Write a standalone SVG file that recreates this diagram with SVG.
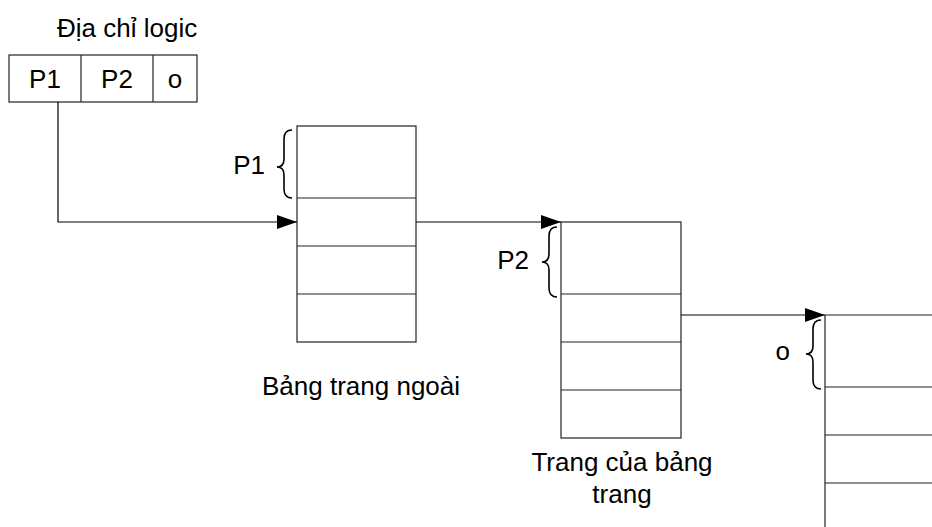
<svg xmlns="http://www.w3.org/2000/svg" width="932" height="527" viewBox="0 0 932 527">
  <style>
    .t { font-family: "Liberation Sans", Arial, sans-serif; font-size: 26px; fill: #000; }
    .c { text-anchor: middle; }
    .e { text-anchor: end; }
    .box { fill: #fff; stroke: #222; stroke-width: 1.2; }
    .ln { stroke: #222; stroke-width: 1.2; fill: none; }
    .brace { stroke: #000; stroke-width: 1.6; fill: none; }
    .conn { stroke: #000; stroke-width: 1.2; fill: none; }
  </style>
  <defs>
    <marker id="arr" markerUnits="userSpaceOnUse" markerWidth="21" markerHeight="14" refX="20" refY="7" orient="auto">
      <path d="M0,0 L20,7 L0,14 Z" fill="#000"/>
    </marker>
  </defs>
  <rect width="932" height="527" fill="#fff"/>

  <g id="logical-address">
    <text class="t" x="57" y="37">Địa chỉ logic</text>
    <rect class="box" x="9" y="55" width="188" height="47"/>
    <line class="ln" x1="81" y1="55" x2="81" y2="102"/>
    <line class="ln" x1="153" y1="55" x2="153" y2="102"/>
    <text class="t c" x="45" y="88">P1</text>
    <text class="t c" x="117" y="88">P2</text>
    <text class="t c" x="175" y="88">o</text>
  </g>

  <g id="outer-page-table">
    <rect class="box" x="297" y="126" width="119" height="216"/>
    <line class="ln" x1="297" y1="198" x2="416" y2="198"/>
    <line class="ln" x1="297" y1="246" x2="416" y2="246"/>
    <line class="ln" x1="297" y1="294" x2="416" y2="294"/>
    <path class="brace" d="M292,130 C286,130 284,133 284,139 L284,159 C284,164 282,167 277,167 C282,167 284,170 284,175 L284,189 C284,195 286,198 292,198"/>
    <text class="t e" x="265" y="174">P1</text>
    <text class="t" x="262" y="395">Bảng trang ngoài</text>
  </g>

  <g id="inner-page-table">
    <rect class="box" x="561" y="222" width="120" height="216"/>
    <line class="ln" x1="561" y1="294" x2="681" y2="294"/>
    <line class="ln" x1="561" y1="342" x2="681" y2="342"/>
    <line class="ln" x1="561" y1="390" x2="681" y2="390"/>
    <path class="brace" d="M557,227 C551,227 549,230 549,236 L549,254 C549,259 547,262 542,262 C547,262 549,265 549,270 L549,288 C549,294 551,297 557,297"/>
    <text class="t e" x="529" y="269">P2</text>
    <text class="t c" x="622" y="471">Trang của bảng</text>
    <text class="t c" x="622" y="503">trang</text>
  </g>

  <g id="page">
    <line class="ln" x1="825" y1="315" x2="932" y2="315"/>
    <line class="ln" x1="825" y1="315" x2="825" y2="527"/>
    <line class="ln" x1="825" y1="387" x2="932" y2="387"/>
    <line class="ln" x1="825" y1="435" x2="932" y2="435"/>
    <line class="ln" x1="825" y1="483" x2="932" y2="483"/>
    <path class="brace" d="M821,320 C815,320 813,323 813,329 L813,346 C813,351 811,354 806,354 C811,354 813,357 813,362 L813,380 C813,386 815,389 821,389"/>
    <text class="t e" x="790" y="360">o</text>
  </g>

  <g id="connectors">
    <polyline class="conn" points="58,102 58,222 297,222" marker-end="url(#arr)"/>
    <line class="conn" x1="416" y1="222" x2="561" y2="222" marker-end="url(#arr)"/>
    <line class="conn" x1="681" y1="315" x2="825" y2="315" marker-end="url(#arr)"/>
  </g>
</svg>
